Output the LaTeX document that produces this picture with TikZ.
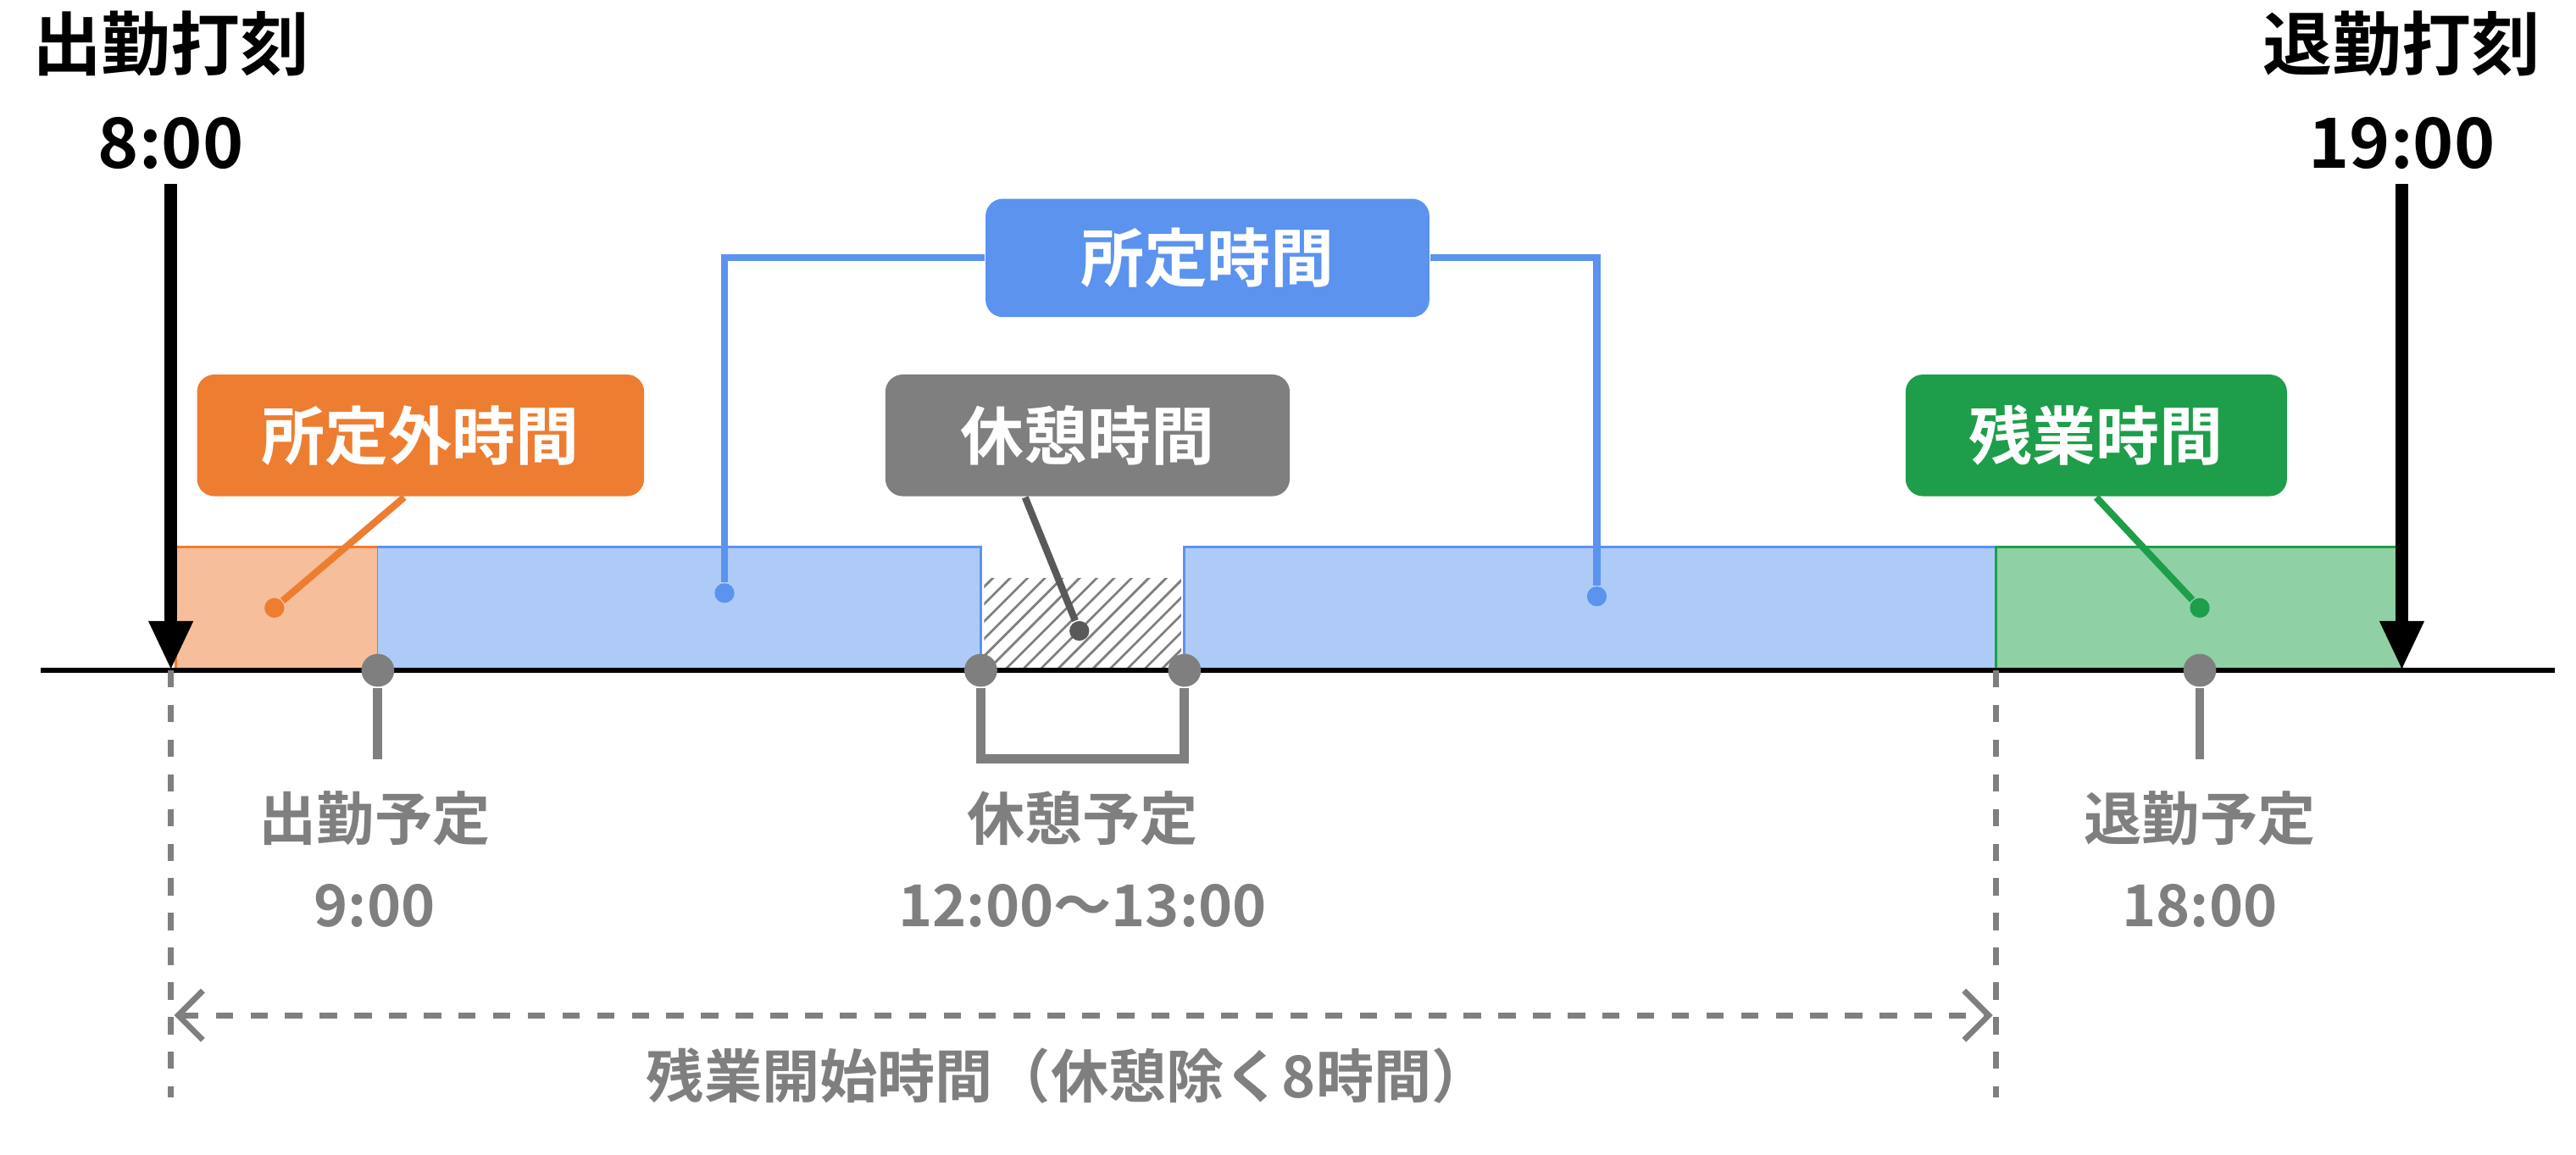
\documentclass[tikz,border=0pt]{standalone}
\usepackage{fontspec}
\setmainfont{Noto Sans CJK JP}[BoldFont={* Bold}]
\usetikzlibrary{arrows.meta, positioning, patterns, calc}
\definecolor{cblue}{HTML}{5B93EE}
\definecolor{lblue}{HTML}{AECBF8}
\definecolor{corange}{HTML}{ED7D31}
\definecolor{lorange}{HTML}{F6BE9A}
\definecolor{cgreen}{HTML}{1E9E4A}
\definecolor{lgreen}{HTML}{8FD0A5}
\definecolor{cgray}{HTML}{7F7F7F}
\begin{document}
\begin{tikzpicture}[x=0.01cm, y=-0.01cm,
        font=\bfseries\fontsize{10pt}{12pt}\selectfont,
        tag/.style={rounded corners=3pt, text=white, inner sep=0pt, font=\bfseries\fontsize{11pt}{13pt}\selectfont},
        pin/.style={circle, fill=cgray, inner sep=0pt, minimum size=0.2cm},
        dot/.style={circle, inner sep=0pt, minimum size=0.12cm},
        glabel/.style={text=cgray, align=center, font=\bfseries\fontsize{10pt}{15pt}\selectfont},
        stem/.style={cgray, line width=1.6pt}
    ]
    \useasboundingbox (0,0) rectangle (1568,703);

    % bars
    \draw[corange, fill=lorange] (107,333) rectangle (230,408);
    \draw[cblue, fill=lblue] (230,408) -- (230,333) -- (597,333) -- (597,408);
    \draw[cblue, fill=lblue] (721,408) -- (721,333) -- (1215,333) -- (1215,408);
    \fill[lblue] (230,333) rectangle (597,408);
    \fill[lblue] (721,333) rectangle (1215,408);
    \draw[cblue] (230,333) -- (597,333) -- (597,408);
    \draw[cblue] (721,408) -- (721,333) -- (1215,333);
    \fill[pattern=north east lines, pattern color=cgray] (599,352) rectangle (719,408);
    \draw[cgreen, fill=lgreen] (1215,333) rectangle (1462,408);

    % axis
    \draw[line width=1pt] (25,408) -- (1555,408);

    % punches
    \node[align=center, font=\bfseries\fontsize{12pt}{17pt}\selectfont] (inlbl) at (104,55) {出勤打刻\\8:00};
    \node[align=center, font=\bfseries\fontsize{12pt}{17pt}\selectfont] (outlbl) at (1462,55) {退勤打刻\\19:00};
    \coordinate (inend) at (104,408);
    \coordinate (outend) at (1462,408);
    \draw[-{Triangle[length=0.3cm, width=0.25cm]}, line width=2.2pt] (104,112) -- (inend);
    \draw[-{Triangle[length=0.3cm, width=0.25cm]}, line width=2.2pt] (1462,112) -- (outend);

    % tags
    \node[tag, fill=cblue, minimum width=2.7cm, minimum height=0.72cm] (work) at (735,157) {所定時間};
    \node[tag, fill=corange, minimum width=2.72cm, minimum height=0.74cm] (extra) at (256,265) {所定外時間};
    \node[tag, fill=cgray, minimum width=2.46cm, minimum height=0.74cm] (rest) at (662,265) {休憩時間};
    \node[tag, fill=cgreen, minimum width=2.32cm, minimum height=0.74cm] (over) at (1276,265) {残業時間};

    \node[dot, fill=cblue] (wl) at (441,361) {};
    \node[dot, fill=cblue] (wr) at (972,363) {};
    \node[dot, fill=corange] (ed) at (167,370) {};
    \node[dot, fill=cgray!70!black] (rd) at (657,384) {};
    \node[dot, fill=cgreen] (od) at (1339,370) {};
    \draw[cblue, line width=1.2pt] (work.west) -| (wl);
    \draw[cblue, line width=1.2pt] (work.east) -| (wr);
    \draw[corange, line width=1.2pt] (extra.south) ++(-10,0) -- (ed);
    \draw[cgray!70!black, line width=1.2pt] (rest.south) ++(-38,0) -- (rd);
    \draw[cgreen, line width=1.2pt] (over.south) -- (od);

    % schedule pins
    \node[pin] (p1) at (230,408) {};
    \node[pin] (p2) at (597,408) {};
    \node[pin] (p3) at (721,408) {};
    \node[pin] (p4) at (1339,408) {};
    \draw[stem] (p1) -- ++(0,54);
    \draw[stem] (p2) -- (597,462) -- (721,462) -- (p3);
    \draw[stem] (p4) -- ++(0,54);
    \node[glabel] (s1) at (228,523) {出勤予定\\9:00};
    \node[glabel] (s2) at (659,523) {休憩予定\\12:00〜13:00};
    \node[glabel] (s3) at (1339,523) {退勤予定\\18:00};

    % overtime start span
    \coordinate (va) at (104,668);
    \coordinate (vb) at (1215,668);
    \draw[cgray, dashed, line width=1pt] (inend) -- (va);
    \draw[cgray, dashed, line width=1pt] (1215,408) -- (vb);
    \draw[cgray, dashed, line width=1pt, {Straight Barb[length=0.15cm]}-{Straight Barb[length=0.15cm]}] (106,618) -- (1213,618);
    \node[text=cgray] (span) at (650,655) {残業開始時間（休憩除く8時間）};
\end{tikzpicture}
\end{document}
